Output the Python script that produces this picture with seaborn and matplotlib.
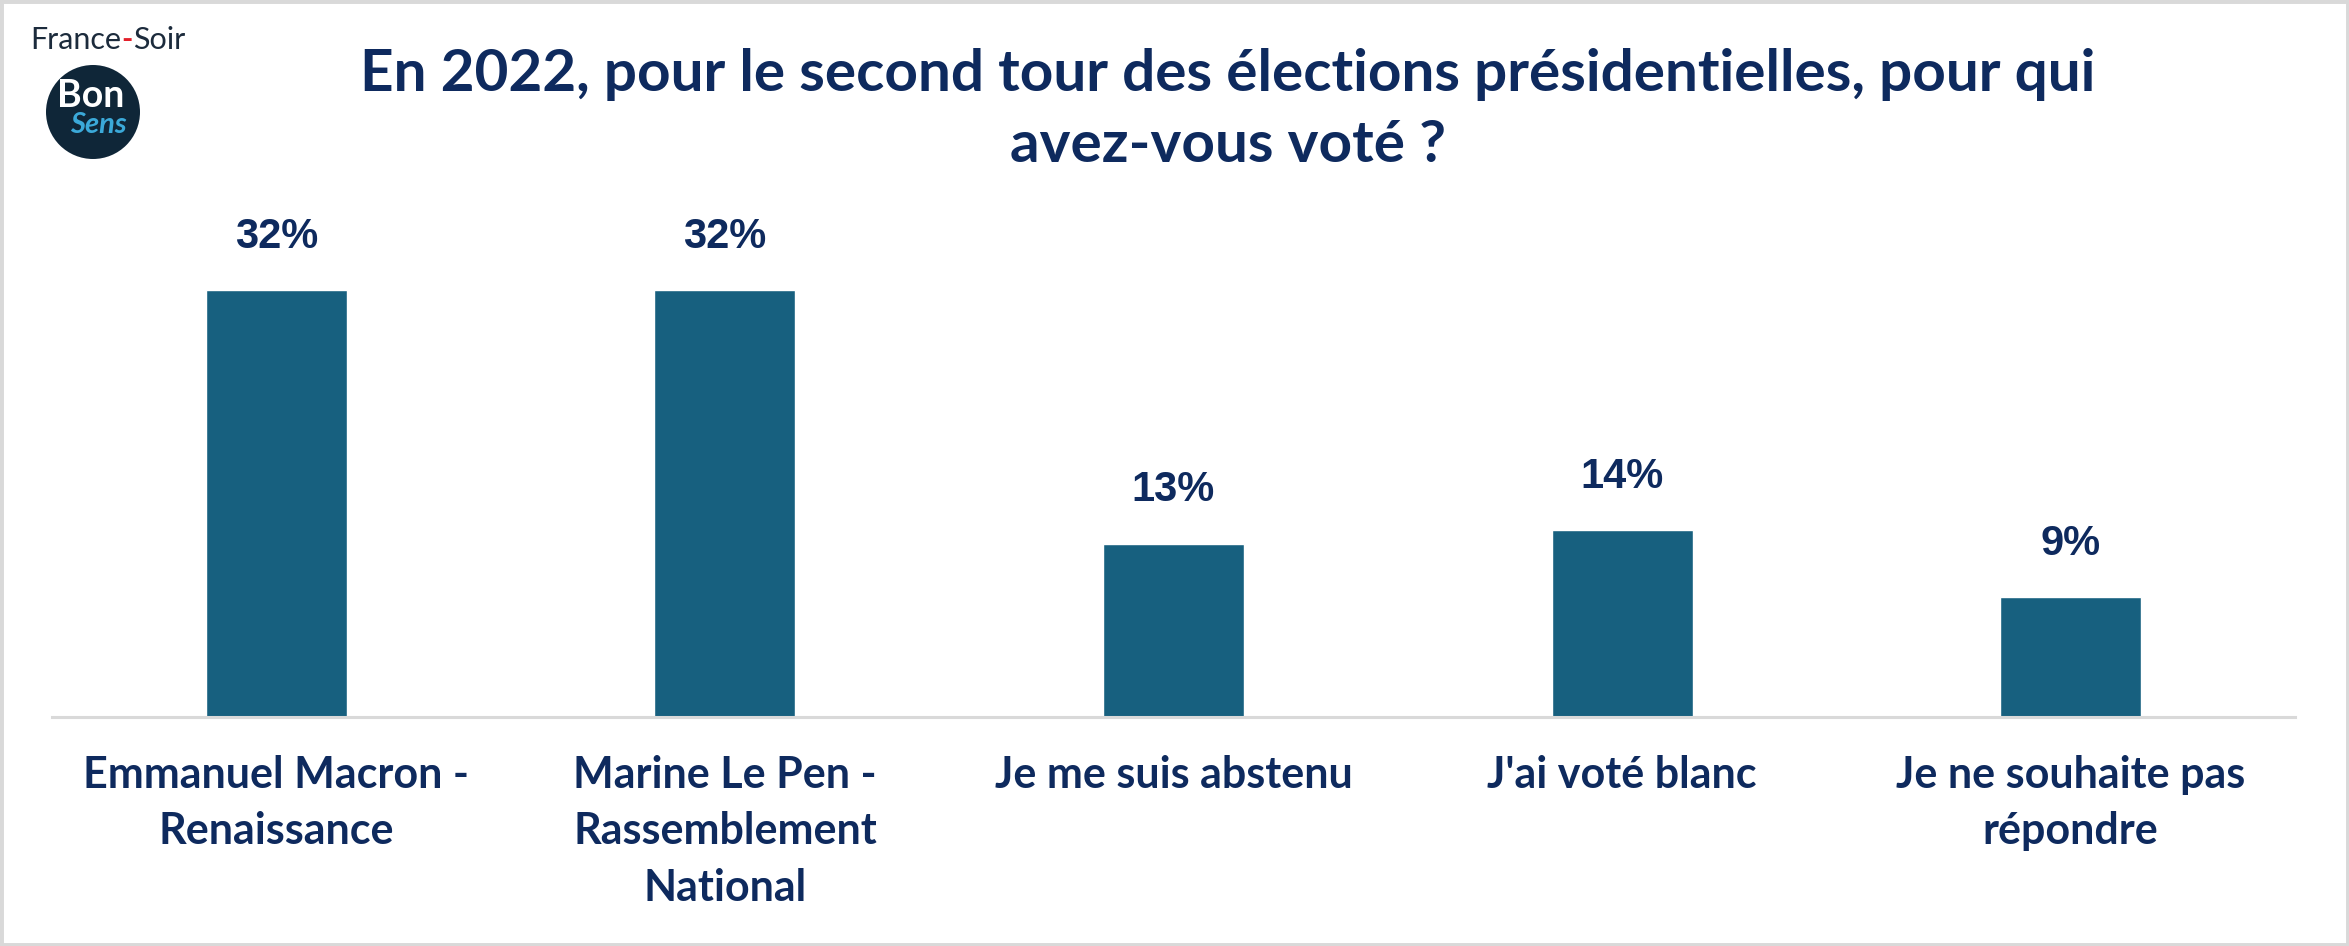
import matplotlib
matplotlib.use("Agg")
import matplotlib.pyplot as plt
from matplotlib.patches import Circle, Rectangle
import seaborn as sns
import pandas as pd

# -- Données --
categories = [
    "Emmanuel Macron -\nRenaissance",
    "Marine Le Pen -\nRassemblement\nNational",
    "Je me suis abstenu",
    "J'ai voté blanc",
    "Je ne souhaite pas\nrépondre",
]
values = [32, 32, 13, 14, 9]
value_labels = ["32%", "32%", "13%", "14%", "9%"]
title = ("En 2022, pour le second tour des élections présidentielles, pour qui\n"
         "avez-vous voté ?")

navy = "#0e2a5e"
bar_color = "#17607f"
grey = "#d9d9d9"

sns.set_theme(style="white")
plt.rcParams["font.family"] = ["Lato", "DejaVu Sans"]

df = pd.DataFrame({"cat": categories, "val": values})

W, H = 2349, 946
fig = plt.figure(figsize=(W / 100, H / 100), dpi=100)
fig.patch.set_facecolor("white")

ax = fig.add_axes([52 / W, 1 - 717 / H, 2243 / W, 517 / H])
sns.barplot(data=df, x="cat", y="val", color=bar_color, width=0.314,
            saturation=1, ax=ax)
ax.set_ylim(0, 517 / 13.34)
ax.set_xlim(-0.5, len(categories) - 0.5)
ax.set_xlabel("")
ax.set_ylabel("")
ax.set_yticks([])
for s in ["top", "right", "left"]:
    ax.spines[s].set_visible(False)
ax.spines["bottom"].set_color(grey)
ax.spines["bottom"].set_linewidth(2.2)
ax.tick_params(axis="x", length=0, pad=27)
for lab in ax.get_xticklabels():
    lab.set_fontsize(31)
    lab.set_fontweight("bold")
    lab.set_color(navy)
    lab.set_linespacing(1.5)

# Étiquettes de valeurs
for i, (v, t) in enumerate(zip(values, value_labels)):
    ax.annotate(t, (i, v), xytext=(0, 24), textcoords="offset points",
                ha="center", va="bottom", fontsize=30, fontweight="bold",
                color=navy, family=["Liberation Sans", "DejaVu Sans"])

# Titre
fig.text(1228 / W, 1 - 110 / H, title, ha="center", va="center",
         fontsize=42, fontweight="bold", color=navy, linespacing=1.42,
         multialignment="center")

# Logo France-Soir / BonSens
fig.text(30 / W, 1 - 40 / H, "France", ha="left", va="center",
         fontsize=22, color="#1c2b3c")
fig.text(121 / W, 1 - 40 / H, "-", ha="left", va="center",
         fontsize=22, color="#e3202a", fontweight="bold")
fig.text(133 / W, 1 - 40 / H, "Soir", ha="left", va="center",
         fontsize=22, color="#1c2b3c")
fig.add_artist(Circle((0.93, (H - 112) / 100), 0.47,
                      transform=fig.dpi_scale_trans,
                      facecolor="#0f2638", edgecolor="none"))
fig.text(91 / W, 1 - 96 / H, "Bon", ha="center", va="center",
         fontsize=27, fontweight="bold", color="white")
fig.text(98 / W, 1 - 125 / H, "Sens", ha="center", va="center",
         fontsize=21, fontstyle="italic", fontweight="bold",
         color="#3ba9d9")

# Cadre
fig.add_artist(Rectangle((0, 0), 1, 1, transform=fig.transFigure,
                         fill=False, edgecolor=grey, linewidth=5))

fig.savefig("out.png", dpi=100)
